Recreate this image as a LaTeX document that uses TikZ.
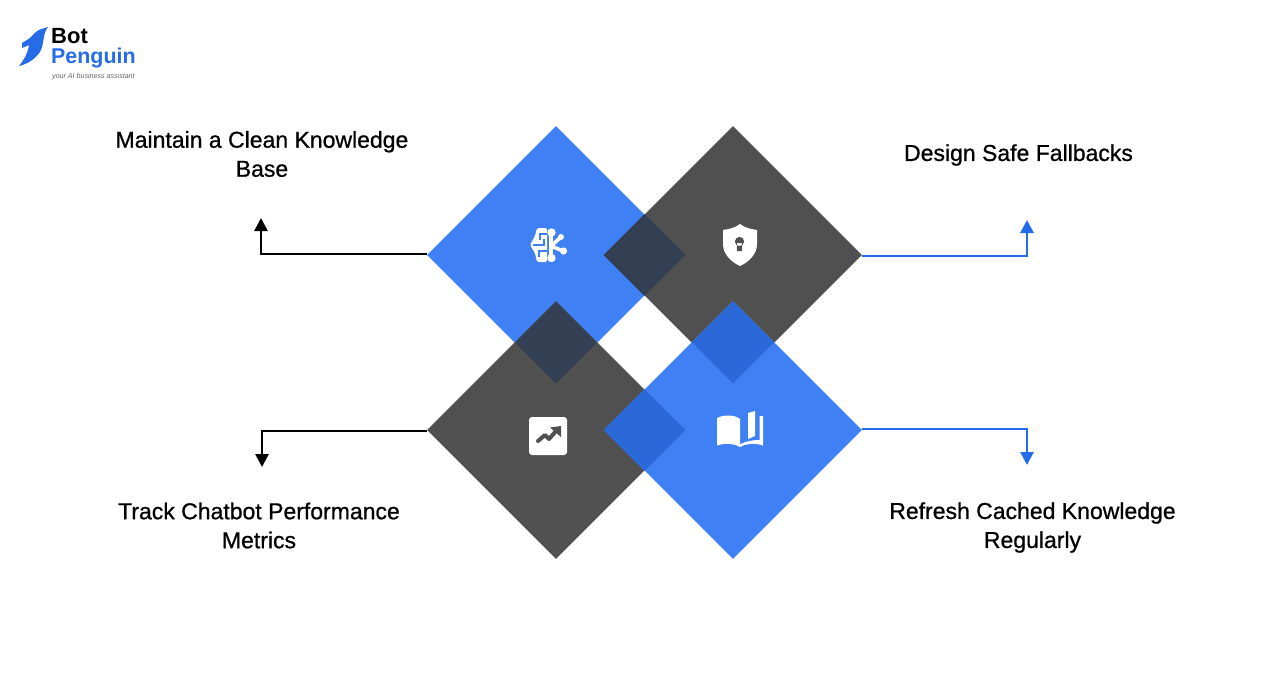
\documentclass[tikz,border=0pt]{standalone}
\usepackage{fontspec}
\setmainfont{Liberation Sans}
\newfontfamily\tipfont[RawFeature={embolden=0.8}]{Liberation Sans}
\usetikzlibrary{positioning,arrows.meta,shapes.geometric}
\definecolor{penguinblue}{RGB}{64,128,245}
\definecolor{penguindark}{RGB}{80,80,80}
\definecolor{overlapdark}{RGB}{51,63,82}
\definecolor{overlapblue}{RGB}{43,104,216}
\definecolor{linkblue}{RGB}{38,108,232}
\tikzset{
  bigdiamond/.style={diamond,inner sep=0pt,minimum width=258,minimum height=258},
  smalldiamond/.style={diamond,inner sep=0pt,minimum width=82,minimum height=82},
  tiplabel/.style={align=center,font=\tipfont\fontsize{23}{29}\selectfont,text=black},
  linkline/.style={line width=2.7,-{Triangle[length=13,width=13]}},
}
\begin{document}
\begin{tikzpicture}[x=1pt,y=-1pt]
  \useasboundingbox (0,0) rectangle (1288,686);
  \fill [white] (0,0) rectangle (1288,686);

  % diamonds
  \node (topleft) [bigdiamond,fill=penguinblue] at (556,255) {};
  \node (topright) [bigdiamond,fill=penguindark] at (733,255) {};
  \node (botleft) [bigdiamond,fill=penguindark] at (556,430) {};
  \node (botright) [bigdiamond,fill=penguinblue] at (733,430) {};
  \node (overtop) [smalldiamond,fill=overlapdark] at (644.5,255) {};
  \node (overleft) [smalldiamond,fill=overlapdark] at (556,342.5) {};
  \node (overright) [smalldiamond,fill=overlapblue] at (733,342.5) {};
  \node (overbot) [smalldiamond,fill=overlapblue] at (644.5,430) {};

  % labels
  \node (maintain) [tiplabel] at (262,154) {Maintain a Clean Knowledge\\Base};
  \node (fallbacks) [tiplabel] at (1018.5,155) {Design Safe Fallbacks};
  \node (track) [tiplabel] at (259,525.5) {Track Chatbot Performance\\Metrics};
  \node (refresh) [tiplabel] at (1032.5,527.5) {Refresh Cached Knowledge\\Regularly};

  % connectors
  \coordinate (tipa) at (261,218);
  \coordinate (tipb) at (1027,220);
  \coordinate (tipc) at (262,467);
  \coordinate (tipd) at (1027,465);
  \draw [linkline] ([yshift=1pt]topleft.west) -| (tipa);
  \draw [linkline,linkblue] ([yshift=-1pt]topright.east) -| (tipb);
  \draw [linkline] ([yshift=-1pt]botleft.west) -| (tipc);
  \draw [linkline,linkblue] ([yshift=1pt]botright.east) -| (tipd);

  % brain icon
  \fill [white,rounded corners=1.5] (537,228) -- (547,228) -- (547,262) -- (537,262)
    -- (535,253) -- (530,245) -- (535,236) -- cycle;
  \draw [penguinblue,line width=1.6]
    (548,234) -- (540,234) -- (540,240) (533,245) -- (544,245) -- (544,239)
    (548,251) -- (539,251) -- (539,257);
  \draw [white,line width=3.6,line cap=round]
    (551,233) -- (551,258) (551,246) -- (561,237) (551,246) -- (563,251);
  \fill [white] (551.5,232.5) circle (4.2) (551.5,258) circle (4.2)
    (561,237) circle (3) (563.5,251) circle (3.6);

  % shield icon
  \fill [white] (740,224) .. controls (745,228) and (751,229) .. (757,230)
    -- (757,244) .. controls (757,254) and (749,262) .. (740,266)
    .. controls (731,262) and (723,254) .. (723,244) -- (723,230)
    .. controls (729,229) and (735,228) .. (740,224) -- cycle;
  \fill [penguindark] (739.5,241.5) circle (4.6) (736.8,243) rectangle (742.2,251);

  % chart icon
  \fill [white,rounded corners=3] (529,417) rectangle (567,455);
  \draw [penguindark,line width=4,line cap=round,line join=round]
    (538,441) -- (545,435) -- (549,439) -- (556,431);
  \fill [penguindark] (550,427.5) -- (561,426) -- (561,437) -- cycle;

  % book icon
  \fill [white] (717,418) .. controls (725,414) and (735,415) .. (740,419)
    -- (740,447) .. controls (733,443) and (725,443) .. (717,445.5) -- cycle;
  \fill [white] (748,413) -- (755,411) -- (755,436) -- (748,439) -- cycle;
  \fill [white] (759.5,416) -- (763,416) -- (763,445.5) .. controls (755,443) and (747,443) .. (740,447)
    -- (740,444.5) .. controls (746,441) and (753,440) .. (759.5,440) -- cycle;

  % logo
  \fill [linkblue] (48,27) -- (40,29.5) .. controls (36,31) and (33,35) .. (30,38)
    -- (22,43) -- (22,48) -- (29,45) .. controls (28,53) and (24,60) .. (19,66)
    .. controls (28,64) and (37,58) .. (41,50) .. controls (44,43) and (43,33) .. (48,27) -- cycle;
  \node (logobot) [anchor=west,inner sep=0pt,font=\fontsize{22}{22}\selectfont\bfseries] at (51,36) {Bot};
  \node (logopenguin) [anchor=west,inner sep=0pt,text=linkblue,font=\fontsize{21.4}{22}\selectfont\bfseries] at (51,58.5) {Penguin};
  \node (logotag) [anchor=west,inner sep=0pt,text=black!60,font=\fontsize{7.1}{8}\selectfont\itshape] at (52,76.5) {your AI business assistant};
\end{tikzpicture}
\end{document}
